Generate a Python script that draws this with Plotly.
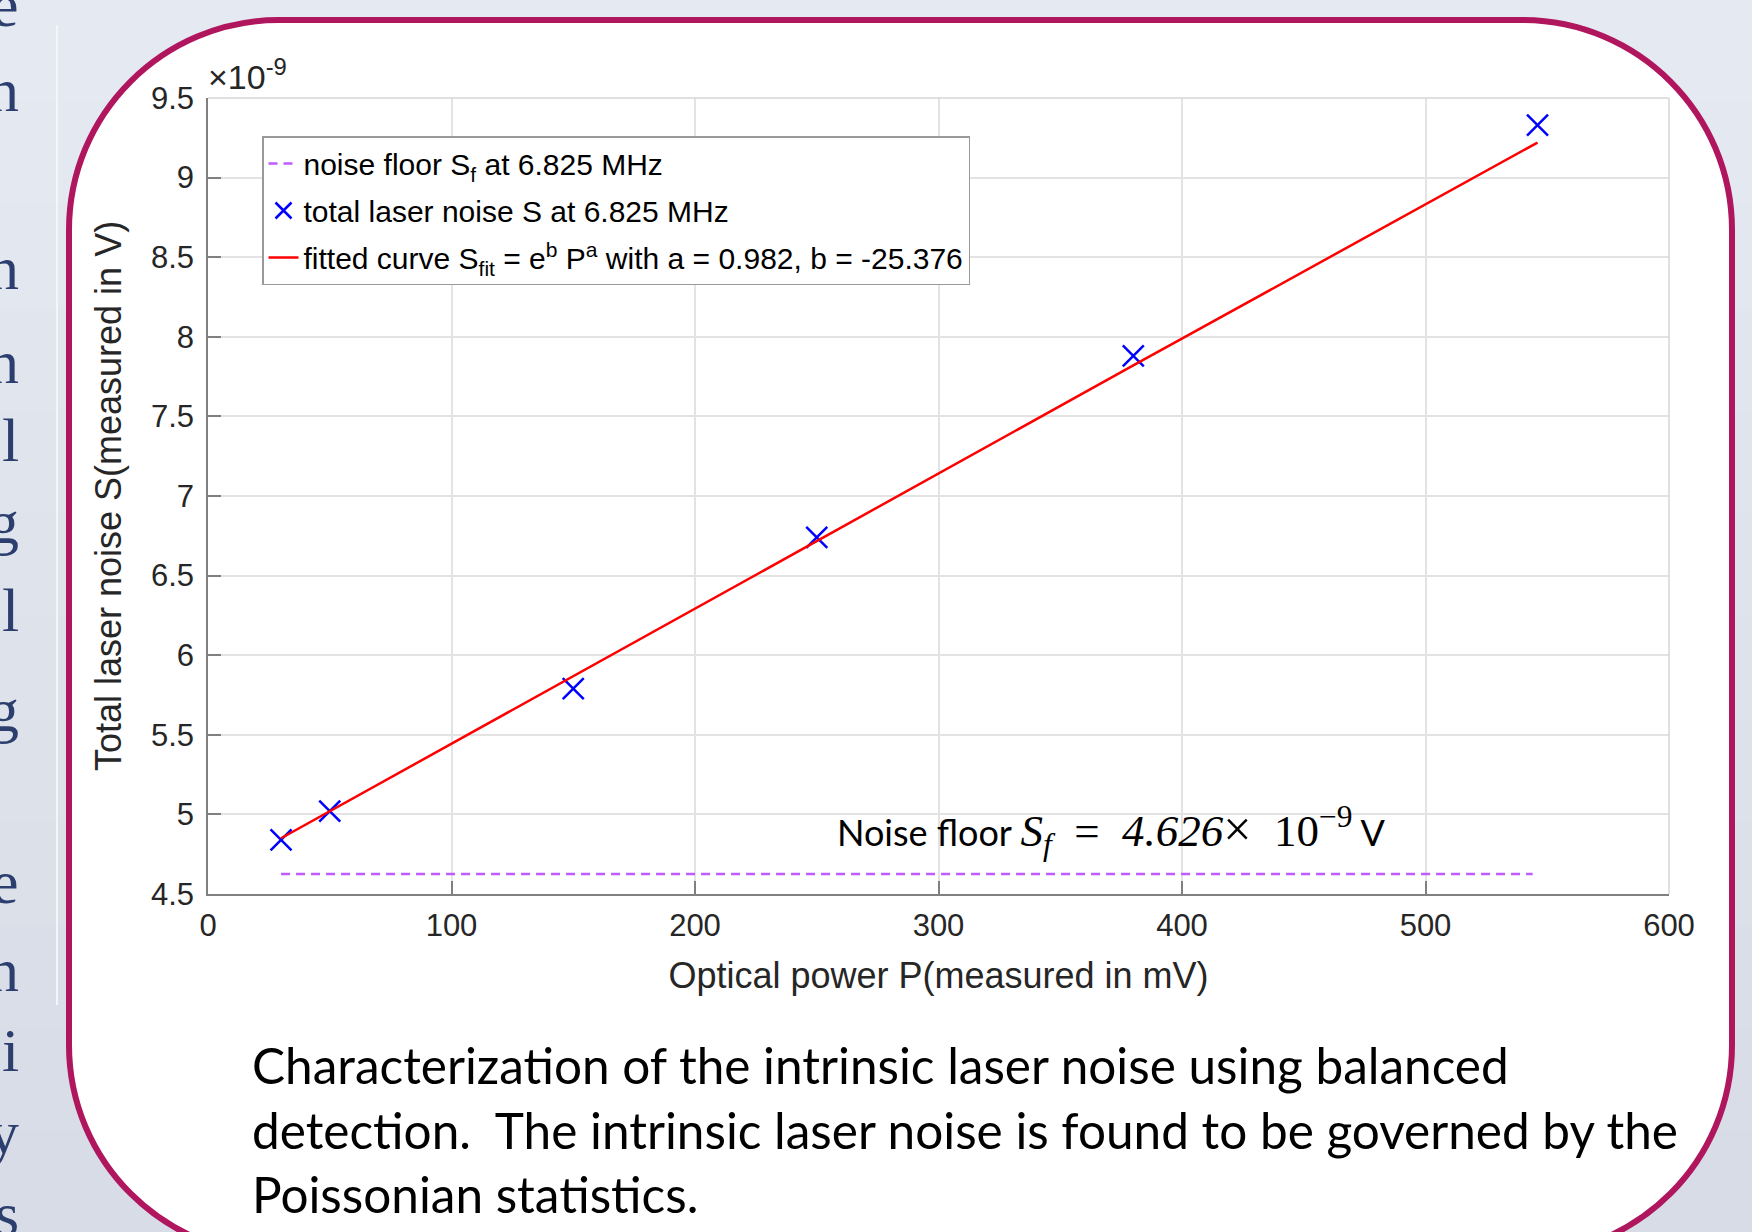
import plotly.graph_objects as go

# ---------------- data ----------------
power_mV = [30, 50, 150, 250, 380, 546]                 # optical power P (mV)
noise_1e9V = [4.84, 5.02, 5.79, 6.74, 7.88, 9.33]       # total laser noise S (x1e-9 V)
fit_x = [30, 50, 150, 250, 380, 546]
fit_1e9V = [4.85, 5.02, 5.87, 6.72, 7.82, 9.22]         # fitted curve (x1e-9 V)
floor_x = [30, 544]
floor_1e9V = [4.626, 4.626]                             # noise floor (x1e-9 V)

x_ticks = [0, 100, 200, 300, 400, 500, 600]
y_ticks = [4.5, 5, 5.5, 6, 6.5, 7, 7.5, 8, 8.5, 9, 9.5]
y_ticklabels = ["4.5", "5", "5.5", "6", "6.5", "7", "7.5", "8", "8.5", "9", "9.5"]

legend_names = [
    "noise floor S<sub>f</sub> at 6.825 MHz",
    "total laser noise S at 6.825 MHz",
    "fitted curve S<sub>fit</sub> = e<sup>b</sup> P<sup>a</sup> with a = 0.982, b = -25.376",
]
caption_lines = [
    "Characterization of the intrinsic laser noise using balanced",
    "detection.\u00a0 The intrinsic laser noise is found to be governed by the",
    "Poissonian statistics.",
]
side_letters = ["e", "n", "n", "n", "l", "g", "l", "g", "e", "n", "i", "y", "s"]
side_letter_y = [5, 90, 268, 362, 440, 522, 610, 710, 882, 970, 1050, 1132, 1214]

# ---------------- geometry helpers (pixel -> paper) ----------------
W, H = 1752, 1232
L, R, T, B = 208, 1669, 98, 894
PW, PH = R - L, B - T


def px(x):
    return (x - L) / PW


def py(y):
    return (B - y) / PH


SANS = "Liberation Sans, Arial, sans-serif"
TEXT = "Lato, Open Sans, sans-serif"
SERIF = "Liberation Serif, DejaVu Serif, serif"

fig = go.Figure()

fig.add_trace(go.Scatter(
    x=floor_x, y=floor_1e9V, mode="lines", name=legend_names[0],
    line=dict(color="#BF5CFF", width=2.5, dash="9px,6px"), legendgroup="a",
))
fig.add_trace(go.Scatter(
    x=power_mV, y=noise_1e9V, mode="markers", name=legend_names[1],
    marker=dict(symbol="x-thin", size=21, color="#0000FF",
                line=dict(color="#0000FF", width=2.5)), legendgroup="b",
))
fig.add_trace(go.Scatter(
    x=fit_x, y=fit_1e9V, mode="lines", name=legend_names[2],
    line=dict(color="#FF0000", width=2.5), legendgroup="c",
))

# ---------------- background / frame ----------------
shapes = []
top_col = (229, 233, 241)
bot_col = (216, 220, 230)
n = 12
for i in range(n):
    t = i / (n - 1)
    c = tuple(round(top_col[k] + (bot_col[k] - top_col[k]) * t) for k in range(3))
    y0, y1 = H * i / n, H * (i + 1) / n
    shapes.append(dict(type="rect", xref="paper", yref="paper",
                       x0=px(0), x1=px(W), y0=py(y1 + 1), y1=py(y0),
                       fillcolor="rgb(%d,%d,%d)" % c, line=dict(width=0), layer="below"))

shapes.append(dict(type="line", xref="paper", yref="paper",
                   x0=px(57), x1=px(57), y0=py(25), y1=py(1005),
                   line=dict(color="#F3F5F9", width=2), layer="below"))

bl, br, bt, bb, r = 69, 1732, 20, 1255, 210
k = 0.5523 * r
path = (
    f"M {px(bl + r)} {py(bt)} L {px(br - r)} {py(bt)} "
    f"C {px(br - r + k)} {py(bt)} {px(br)} {py(bt + r - k)} {px(br)} {py(bt + r)} "
    f"L {px(br)} {py(bb - r)} "
    f"C {px(br)} {py(bb - r + k)} {px(br - r + k)} {py(bb)} {px(br - r)} {py(bb)} "
    f"L {px(bl + r)} {py(bb)} "
    f"C {px(bl + r - k)} {py(bb)} {px(bl)} {py(bb - r + k)} {px(bl)} {py(bb - r)} "
    f"L {px(bl)} {py(bt + r)} "
    f"C {px(bl)} {py(bt + r - k)} {px(bl + r - k)} {py(bt)} {px(bl + r)} {py(bt)} Z"
)
shapes.append(dict(type="path", xref="paper", yref="paper", path=path,
                   fillcolor="white", line=dict(color="#B0165E", width=6), layer="below"))

# top / right light box edges of the axes
shapes.append(dict(type="line", xref="paper", yref="paper", x0=0, x1=1, y0=1, y1=1,
                   line=dict(color="#D6D6D6", width=1.5)))
shapes.append(dict(type="line", xref="paper", yref="paper", x0=1, x1=1, y0=0, y1=1,
                   line=dict(color="#D6D6D6", width=1.5)))

# ---------------- annotations ----------------
ann = []
ann.append(dict(xref="paper", yref="paper", x=px(206), y=py(98), xanchor="left", yanchor="bottom",
                text="\u00d710<sup>-9</sup>", showarrow=False,
                font=dict(family=SANS, size=34, color="#262626")))

ann.append(dict(xref="paper", yref="paper", x=px(835), y=py(830), xanchor="left", yanchor="middle",
                text=("Noise floor <span style='font-family:Liberation Serif;font-size:45px'>"
                      "<i>S</i><sub><i>f</i></sub>\u2002=\u2002<i>4.626</i>"
                      "<span style='font-size:50px'>\u00d7</span>\u200210"
                      "<sup>\u22129</sup></span> V"),
                showarrow=False, font=dict(family=TEXT, size=36, color="#000000")))

cap_y = [1065, 1130, 1194]
for txt, yy in zip(caption_lines, cap_y):
    ann.append(dict(xref="paper", yref="paper", x=px(250), y=py(yy), xanchor="left", yanchor="middle",
                    text=txt, showarrow=False, font=dict(family=TEXT, size=49.5, color="#000000")))

for ch, yy in zip(side_letters, side_letter_y):
    ann.append(dict(xref="paper", yref="paper", x=px(21), y=py(yy), xanchor="right", yanchor="middle",
                    text=ch, showarrow=False, font=dict(family=SERIF, size=62, color="#2B3E6E")))

fig.update_layout(
    width=W, height=H, autosize=False,
    margin=dict(l=L, r=W - R, t=T, b=H - B, pad=0),
    paper_bgcolor="#E2E6EE", plot_bgcolor="white",
    shapes=shapes, annotations=ann,
    showlegend=True,
    legend=dict(x=px(262), y=py(136), xanchor="left", yanchor="top",
                bgcolor="white", bordercolor="#999999", borderwidth=1.5,
                font=dict(family=SANS, size=30, color="#000000"),
                traceorder="grouped", tracegroupgap=5, itemwidth=30),
    xaxis=dict(range=[0, 600], tickvals=x_ticks, ticks="inside", ticklen=13, tickwidth=1.5,
               tickcolor="#808080", showline=True, linecolor="#808080", linewidth=1.5,
               showgrid=True, gridcolor="#E3E3E3", gridwidth=1.5, zeroline=False,
               tickfont=dict(family=SANS, size=31, color="#262626"), ticklabelstandoff=3,
               title=dict(text="Optical power P(measured in mV)", standoff=21,
                          font=dict(family=SANS, size=36, color="#262626"))),
    yaxis=dict(range=[4.5, 9.5], tickvals=y_ticks, ticktext=y_ticklabels, ticks="inside",
               ticklen=13, tickwidth=1.5, tickcolor="#808080", showline=True, linecolor="#808080",
               linewidth=1.5, showgrid=True, gridcolor="#E3E3E3", gridwidth=1.5, zeroline=False,
               tickfont=dict(family=SANS, size=31, color="#262626"), ticklabelstandoff=6,
               title=dict(text="Total laser noise S(measured in V)", standoff=18,
                          font=dict(family=SANS, size=36, color="#262626"))),
)

fig.write_html("out.html")
